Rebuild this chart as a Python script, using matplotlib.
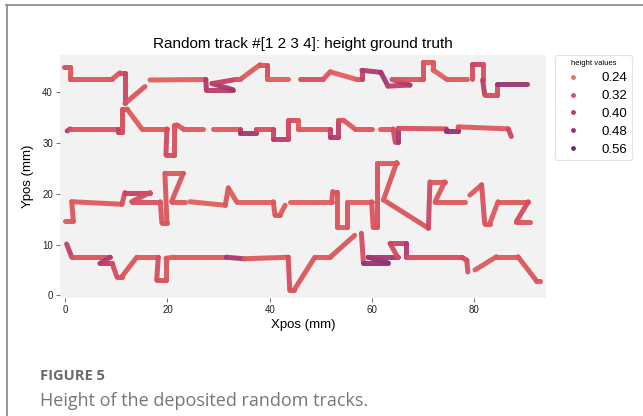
import matplotlib
matplotlib.use("Agg")
import matplotlib.pyplot as plt
import numpy as np
import seaborn as sns
from matplotlib.collections import LineCollection
from matplotlib.colors import Normalize
from matplotlib.lines import Line2D

# --- data (mm), heights per segment, nan = gap between segments ---
t1_x = [-0.3, 1.0, 1.0, 9.1, 10.7, 11.7, 11.7, 15.6, 16.6, 27.5, 27.6, 32.8, 28.7, 33.4, 34.2,
        38.1, 39.4, 39.4, 43.6, 45.9, 50.4, 51.8, 57.0, 58.0, 58.0, 61.7, 63.1, 67.4, 63.9,
        69.3, 69.9, 69.9, 71.9, 71.9, 74.6, 78.5, 79.5, 79.5, 81.6, 81.6, 82.0, 84.4, 84.4, 90.2]
t1_y = [44.8, 44.8, 42.4, 42.4, 43.7, 43.7, 37.7, 41.0, 42.3, 42.4, 40.4, 40.4, 41.6, 42.4, 42.4,
        45.3, 45.3, 42.4, 42.4, 42.4, 42.4, 43.9, 42.4, 42.4, 44.2, 43.8, 41.1, 41.3, 42.4,
        42.4, 42.4, 45.8, 45.8, 44.3, 42.4, 42.4, 42.4, 45.4, 45.4, 42.3, 39.4, 39.4, 41.6, 41.6]
t1_h = [0.34, 0.31, 0.31, 0.30, 0.33, 0.36, 0.31, np.nan, 0.29, 0.42, 0.40, 0.44, 0.38, 0.31,
        0.30, 0.31, 0.33, 0.29, np.nan, 0.33, 0.31, 0.29, 0.30, 0.38, 0.42, 0.45, 0.38, 0.42,
        0.31, 0.31, 0.32, 0.30, 0.30, 0.29, 0.30, np.nan, 0.33, 0.36, 0.32, 0.40, 0.33, 0.32, 0.46]

t2_x = [0.4, 1.0, 10.4, 10.4, 11.1, 11.1, 12.1, 15.0, 19.9, 19.7, 21.2, 21.2, 21.8, 23.1, 27.0,
        29.0, 34.2, 34.2, 37.4, 37.4, 40.7, 40.7, 43.6, 43.6, 45.6, 45.6, 51.8, 51.8, 53.4,
        53.4, 54.4, 56.6, 59.9, 61.5, 64.1, 64.5, 65.1, 65.1, 74.5, 74.5, 76.8, 76.8, 86.6, 87.2]
t2_y = [32.3, 32.7, 32.7, 32.1, 32.1, 36.6, 36.6, 32.7, 32.7, 27.6, 27.6, 33.5, 33.5, 32.7, 32.7,
        32.7, 32.7, 31.8, 31.8, 32.7, 32.7, 30.8, 30.8, 34.4, 34.4, 32.7, 32.7, 31.2, 31.2,
        34.4, 34.4, 32.7, 32.7, 32.7, 32.7, 30.2, 30.2, 32.8, 32.7, 32.3, 32.3, 33.1, 32.7, 31.2]
t2_h = [0.42, 0.32, 0.38, 0.36, 0.33, 0.32, 0.30, 0.30, 0.34, 0.33, 0.32, 0.31, 0.30, 0.30,
        np.nan, 0.30, 0.38, 0.45, 0.40, 0.32, 0.36, 0.40, 0.36, 0.33, 0.30, 0.30, 0.38, 0.42,
        0.38, 0.32, 0.30, 0.30, np.nan, 0.30, 0.33, 0.32, 0.44, 0.32, 0.44, 0.47, 0.45, 0.30, 0.35]

t3_x = [0.0, 1.6, 1.3, 11.1, 11.7, 16.6, 13.0, 18.6, 18.9, 19.9, 19.5, 23.1, 20.8, 23.4, 24.4,
        31.3, 31.9, 33.5, 40.7, 41.0, 42.0, 43.0, 43.9, 48.4, 48.8, 52.1, 52.3, 53.1, 53.1,
        55.0, 55.0, 59.9, 60.2, 61.0, 61.0, 64.8, 62.2, 62.8, 71.0, 71.3, 74.2, 72.3, 78.1,
        79.1, 81.4, 82.0, 83.0, 84.6, 90.5, 88.2, 90.8]
t3_y = [14.7, 14.7, 18.4, 17.9, 20.2, 20.2, 18.4, 18.4, 14.3, 14.3, 24.0, 24.0, 18.4, 18.4, 18.4,
        17.7, 21.1, 18.4, 18.4, 15.8, 15.8, 17.7, 18.4, 18.4, 18.4, 18.4, 20.4, 20.4, 13.4,
        13.4, 18.4, 18.4, 13.4, 13.4, 26.1, 26.1, 18.7, 18.4, 13.2, 22.3, 22.3, 18.4, 18.4,
        19.7, 21.7, 14.1, 14.1, 18.4, 18.4, 14.5, 14.5]
t3_h = [0.30, 0.31, 0.30, 0.32, 0.37, 0.33, 0.32, 0.31, 0.31, 0.31, 0.30, 0.31, 0.30, np.nan,
        0.29, 0.31, 0.30, 0.29, 0.31, 0.31, 0.30, np.nan, 0.29, np.nan, 0.29, 0.31, 0.31, 0.31,
        0.30, 0.31, 0.29, 0.31, 0.31, 0.32, 0.30, 0.31, np.nan, 0.31, 0.35, 0.30, 0.31, 0.30,
        np.nan, 0.30, 0.32, 0.31, 0.30, 0.30, 0.33, 0.31]

t4_x = [0.3, 1.3, 8.8, 6.8, 9.2, 10.1, 11.1, 14.0, 18.2, 17.9, 19.7, 19.7, 21.2, 31.5, 35.0,
        43.6, 43.9, 44.7, 48.8, 51.8, 56.6, 57.9, 58.3, 63.1, 59.2, 65.0, 63.5, 66.7, 66.7,
        77.5, 78.5, 78.7, 80.1, 84.3, 88.5, 92.1, 92.8]
t4_y = [10.1, 7.5, 7.5, 6.3, 6.3, 3.7, 3.7, 7.5, 7.5, 3.0, 3.0, 7.3, 7.5, 7.5, 7.2,
        7.5, 1.0, 1.0, 7.5, 7.5, 11.8, 12.2, 6.4, 6.4, 7.5, 7.5, 10.2, 10.2, 7.5,
        7.5, 6.9, 4.6, 5.0, 7.6, 7.6, 2.9, 2.9]
t4_h = [0.38, 0.31, 0.42, 0.40, 0.33, 0.32, 0.31, 0.30, 0.33, 0.32, 0.31, 0.30, 0.30, 0.44,
        0.30, 0.33, 0.32, 0.31, 0.30, 0.31, np.nan, 0.33, 0.47, 0.49, 0.45, 0.33, 0.36, 0.42,
        0.33, 0.33, 0.32, np.nan, 0.30, 0.30, 0.31, 0.31]

tracks = [(t1_x, t1_y, t1_h), (t2_x, t2_y, t2_h), (t3_x, t3_y, t3_h), (t4_x, t4_y, t4_h)]
legend_vals = [0.24, 0.32, 0.40, 0.48, 0.56]

cmap = sns.color_palette("flare", as_cmap=True)
norm = Normalize(vmin=0.12, vmax=0.64)

plt.rcParams["font.family"] = ["Liberation Sans", "DejaVu Sans"]

fig = plt.figure(figsize=(6.43, 4.16), dpi=100)
ax = fig.add_axes([0.0933, 0.2837, 0.756, 0.584])
ax.set_facecolor("#f2f2f2")
for s in ax.spines.values():
    s.set_visible(False)

for xs, ys, hs in tracks:
    segs, vals = [], []
    for i, h in enumerate(hs):
        if np.isnan(h):
            continue
        segs.append([(xs[i], ys[i]), (xs[i + 1], ys[i + 1])])
        vals.append(h)
    lc = LineCollection(segs, colors=cmap(norm(np.array(vals))), linewidths=3.6,
                        capstyle="round", joinstyle="round", alpha=0.95)
    ax.add_collection(lc)

ax.set_xlim(-1.0, 94.0)
ax.set_ylim(-0.5, 47.2)
ax.set_xticks([0, 20, 40, 60, 80])
ax.set_yticks([0, 10, 20, 30, 40])
ax.tick_params(labelsize=7, length=3, width=0.6, color="#555555", pad=2, labelcolor="#222222")
ax.set_xlabel("Xpos (mm)", fontsize=9.5, labelpad=3)
ax.set_ylabel("Ypos (mm)", fontsize=9.5, labelpad=6)
ax.set_title("Random track #[1 2 3 4]: height ground truth", fontsize=11, pad=5)

handles = [Line2D([], [], ls="none", marker="o", markersize=3.5, markeredgewidth=0,
                  color=cmap(norm(v))) for v in legend_vals]
leg = fig.legend(handles, [f"{v:.2f}" for v in legend_vals], title="height values",
                 loc="upper left", bbox_to_anchor=(555 / 643, 1 - 55 / 416), borderaxespad=0,
                 fontsize=9.5, title_fontsize=5.5, frameon=True, fancybox=True,
                 handletextpad=1.2, labelspacing=0.42, borderpad=0.35, handlelength=2.0)
leg.get_frame().set_edgecolor("#dddddd")
leg.get_frame().set_linewidth(0.8)

# card frame and caption
fig.add_artist(Line2D([6 / 643, 1.0], [1 - 5 / 416] * 2, color="#888888", lw=1.2))
fig.add_artist(Line2D([7 / 643] * 2, [0.0, 1 - 5 / 416], color="#888888", lw=1.2))
fig.text(40 / 643, 1 - 376 / 416, "FIGURE 5", fontsize=10.5, fontweight="bold",
         color="#6a6a6a", va="center", family=["Open Sans", "DejaVu Sans"])
fig.text(40 / 643, 1 - 401 / 416, "Height of the deposited random tracks.", fontsize=13,
         color="#777777", va="center", family=["Open Sans", "DejaVu Sans"])

fig.savefig("out.png", dpi=100, facecolor="white")
